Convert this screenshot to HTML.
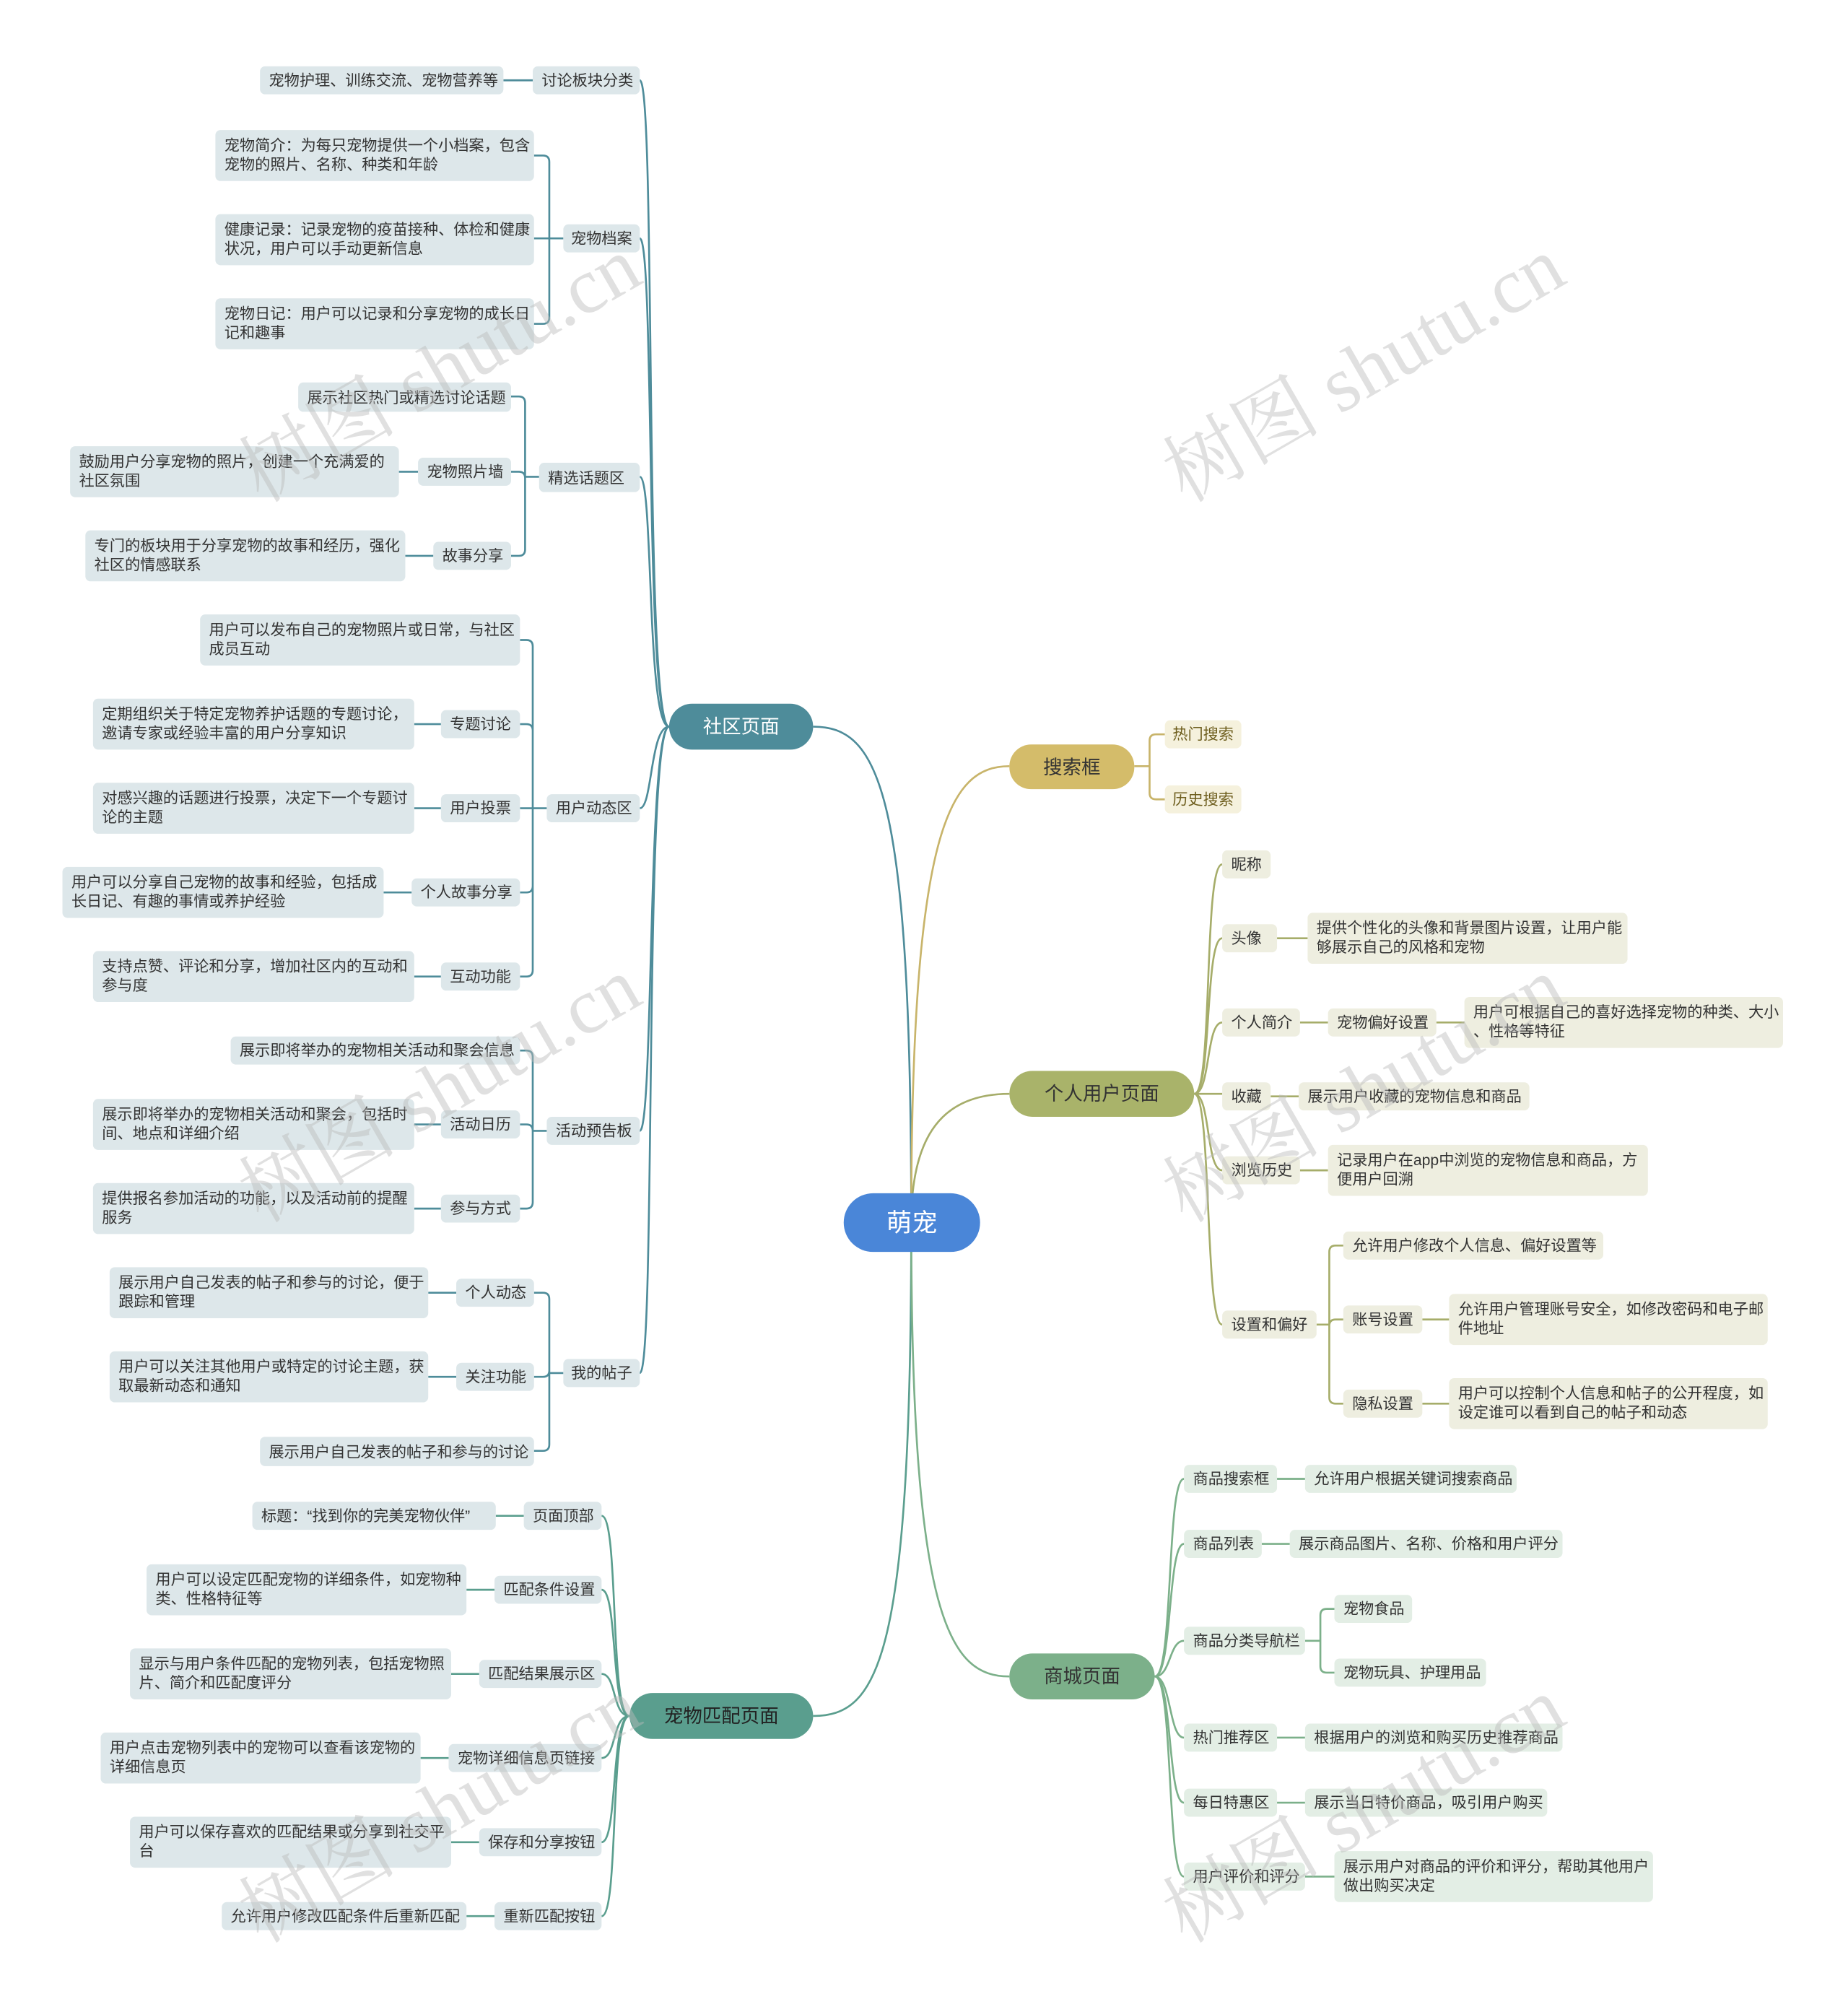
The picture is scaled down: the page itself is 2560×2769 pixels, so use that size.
<!DOCTYPE html>
<html><head><meta charset="utf-8"><style>
html,body{margin:0;padding:0;background:#fff;}
svg{display:block;}
text{font-family:"Liberation Sans","Noto Sans CJK SC",sans-serif;font-size:12px;fill:#333;}
.m{font-size:15px;fill:#fff;}
.c{font-size:20px;fill:#fff;}
.wm{font-family:"Liberation Serif","Noto Serif CJK SC",serif;font-size:62px;fill:#bbb;opacity:.45;}
.t{fill:#dde7ea;}
.g{fill:#e3eee5;}
.o{fill:#eeeee0;}
.y{fill:#f5f1dd;}
.yt{fill:#6e5e1e;}
path{fill:none;stroke-width:1.5;}
.lt{stroke:#4e8c9a;}.lm{stroke:#5a9e8e;}.ly{stroke:#c8b46a;}.lo{stroke:#a6ad6a;}.lg{stroke:#7cb08a;}
</style></head><body>
<svg width="2560" height="2769" viewBox="0 0 1450 1568" preserveAspectRatio="none" xmlns="http://www.w3.org/2000/svg">
<path class="lt" d="M715 959 C715 620 690 570 638 570"/>
<path class="lm" d="M715 959 C715 1300 690 1346 638 1346"/>
<path class="ly" d="M715 959 C715 650 745 601 792 601"/>
<path class="lo" d="M715 959 C715 890 740 858 792 858"/>
<path class="lg" d="M715 959 C715 1270 745 1315 792 1315"/>

<g class="lt">
<path d="M525 570 C505 570 515 63 502 63"/>
<path d="M525 570 C506 570 514 187 502 187"/>
<path d="M525 570 C507 570 513 374 502 374"/>
<path d="M525 570 C510 570 512 634 502 634"/>
<path d="M525 570 C508 570 513 887 502 887"/>
<path d="M525 570 C505 570 515 1077 502 1077"/>
<path d="M395 63 H418"/>
<path d="M442 187 H431 M431 187 V127 Q431 122 426 122 H419 M431 187 H419 M431 187 V249 Q431 254 426 254 H419"/>
<path d="M423 374 H412 M412 374 V316 Q412 311 407 311 H401 M412 374 V375 Q412 370 407 370 H401 M412 374 V431 Q412 436 407 436 H401"/>
<path d="M313 370 H328 M318 436 H340"/>
<path d="M429 634 H418 M418 634 V507 Q418 502 413 502 H408 M418 634 V573 Q418 568 413 568 H408 M418 634 H408 M418 634 V695 Q418 700 413 700 H408 M418 634 V761 Q418 766 413 766 H408"/>
<path d="M325 568 H346 M325 634 H346 M301 700 H323 M325 766 H346"/>
<path d="M429 887 H418 M418 887 V829 Q418 824 413 824 H408 M418 887 V887 Q418 882 413 882 H408 M418 887 V943 Q418 948 413 948 H408"/>
<path d="M325 882 H346 M325 948 H346"/>
<path d="M442 1077 H431 M431 1077 V1019 Q431 1014 426 1014 H419 M431 1077 V1075 Q431 1080 426 1080 H419 M431 1077 V1133 Q431 1138 426 1138 H419"/>
<path d="M336 1014 H358 M336 1080 H358"/>
</g>
<g class="lm">
<path d="M494 1346 C478 1346 486 1189 472 1189"/>
<path d="M494 1346 C479 1346 485 1247 472 1247"/>
<path d="M494 1346 C480 1346 484 1313 472 1313"/>
<path d="M494 1346 C480 1346 484 1379 472 1379"/>
<path d="M494 1346 C479 1346 485 1445 472 1445"/>
<path d="M494 1346 C478 1346 486 1503 472 1503"/>
<path d="M389 1189 H411 M366 1247 H388 M354 1313 H376 M330 1379 H352 M354 1445 H376 M366 1503 H388"/>
</g>
<g class="ly">
<path d="M890 601 H902 M902 601 V581 Q902 576 907 576 H914 M902 601 V622 Q902 627 907 627 H914"/>
</g>
<g class="lo">
<path d="M937 858 C952 858 944 678 959 678"/>
<path d="M937 858 C951 858 945 736 959 736"/>
<path d="M937 858 C950 858 946 802 959 802"/>
<path d="M937 858 H959"/>
<path d="M937 858 C950 858 946 918 959 918"/>
<path d="M937 858 C951 858 945 1039 959 1039"/>
<path d="M1002 736 H1026 M1020 802 H1042 M1127 802 H1149 M997 860 H1019 M1020 918 H1042 M1116 1035 H1137 M1116 1101 H1137"/>
<path d="M1033 1039 H1043 M1043 1039 V982 Q1043 977 1048 977 H1054 M1043 1039 V1040 Q1043 1035 1048 1035 H1054 M1043 1039 V1096 Q1043 1101 1048 1101 H1054"/>
</g>
<g class="lg">
<path d="M906 1315 C921 1315 915 1160 929 1160"/>
<path d="M906 1315 C920 1315 916 1211 929 1211"/>
<path d="M906 1315 C919 1315 917 1287 929 1287"/>
<path d="M906 1315 C919 1315 917 1363 929 1363"/>
<path d="M906 1315 C920 1315 916 1414 929 1414"/>
<path d="M906 1315 C921 1315 915 1472 929 1472"/>
<path d="M1002 1160 H1024 M990 1211 H1012 M1002 1363 H1024 M1002 1414 H1024 M1024 1472 H1047"/>
<path d="M1024 1287 H1036 M1036 1287 V1267 Q1036 1262 1041 1262 H1047 M1036 1287 V1307 Q1036 1312 1041 1312 H1047"/>
</g>

<rect x="662" y="936" width="107" height="46" rx="23" fill="#4a86d8"/>
<text class="c" x="715.5" y="966" text-anchor="middle">萌宠</text>
<rect x="525" y="552" width="113" height="36" rx="18" fill="#4e8c9a"/>
<text class="m" x="581.5" y="575" text-anchor="middle">社区页面</text>
<rect x="494" y="1328" width="144" height="36" rx="18" fill="#5a9e8e"/>
<text class="m" x="566" y="1351" text-anchor="middle" style="fill:#222">宠物匹配页面</text>
<rect x="792" y="584" width="98" height="35" rx="17" fill="#d4bc6a"/>
<text class="m" x="841" y="607" text-anchor="middle" style="fill:#333">搜索框</text>
<rect x="792" y="840" width="145" height="36" rx="18" fill="#a9b36a"/>
<text class="m" x="864.5" y="863" text-anchor="middle" style="fill:#333">个人用户页面</text>
<rect x="792" y="1297" width="114" height="36" rx="18" fill="#7cb08a"/>
<text class="m" x="849" y="1320" text-anchor="middle" style="fill:#333">商城页面</text>

<g>
<rect class="t" x="418" y="52" width="84" height="22" rx="4"/><text x="425" y="67">讨论板块分类</text>
<rect class="t" x="204" y="52" width="191" height="22" rx="4"/><text x="211" y="67">宠物护理、训练交流、宠物营养等</text>
<rect class="t" x="442" y="176" width="60" height="22" rx="4"/><text x="448" y="191">宠物档案</text>
<rect class="t" x="169" y="102" width="250" height="40" rx="4"/><text x="176" y="118">宠物简介：为每只宠物提供一个小档案，包含</text><text x="176" y="133">宠物的照片、名称、种类和年龄</text>
<rect class="t" x="169" y="168" width="250" height="40" rx="4"/><text x="176" y="184">健康记录：记录宠物的疫苗接种、体检和健康</text><text x="176" y="199">状况，用户可以手动更新信息</text>
<rect class="t" x="169" y="234" width="250" height="40" rx="4"/><text x="176" y="250">宠物日记：用户可以记录和分享宠物的成长日</text><text x="176" y="265">记和趣事</text>
<rect class="t" x="423" y="363" width="79" height="23" rx="4"/><text x="430" y="379">精选话题区</text>
<rect class="t" x="234" y="300" width="167" height="23" rx="4"/><text x="241" y="316">展示社区热门或精选讨论话题</text>
<rect class="t" x="328" y="359" width="73" height="22" rx="4"/><text x="335" y="374">宠物照片墙</text>
<rect class="t" x="55" y="350" width="258" height="40" rx="4"/><text x="62" y="366">鼓励用户分享宠物的照片，创建一个充满爱的</text><text x="62" y="381">社区氛围</text>
<rect class="t" x="340" y="425" width="61" height="22" rx="4"/><text x="347" y="440">故事分享</text>
<rect class="t" x="67" y="416" width="251" height="40" rx="4"/><text x="74" y="432">专门的板块用于分享宠物的故事和经历，强化</text><text x="74" y="447">社区的情感联系</text>
<rect class="t" x="429" y="623" width="73" height="22" rx="4"/><text x="436" y="638">用户动态区</text>
<rect class="t" x="157" y="482" width="251" height="40" rx="4"/><text x="164" y="498">用户可以发布自己的宠物照片或日常，与社区</text><text x="164" y="513">成员互动</text>
<rect class="t" x="346" y="557" width="62" height="22" rx="4"/><text x="353" y="572">专题讨论</text>
<rect class="t" x="73" y="548" width="252" height="40" rx="4"/><text x="80" y="564">定期组织关于特定宠物养护话题的专题讨论，</text><text x="80" y="579">邀请专家或经验丰富的用户分享知识</text>
<rect class="t" x="346" y="623" width="62" height="22" rx="4"/><text x="353" y="638">用户投票</text>
<rect class="t" x="73" y="614" width="252" height="40" rx="4"/><text x="80" y="630">对感兴趣的话题进行投票，决定下一个专题讨</text><text x="80" y="645">论的主题</text>
<rect class="t" x="323" y="689" width="85" height="22" rx="4"/><text x="330" y="704">个人故事分享</text>
<rect class="t" x="49" y="680" width="252" height="40" rx="4"/><text x="56" y="696">用户可以分享自己宠物的故事和经验，包括成</text><text x="56" y="711">长日记、有趣的事情或养护经验</text>
<rect class="t" x="346" y="755" width="62" height="22" rx="4"/><text x="353" y="770">互动功能</text>
<rect class="t" x="73" y="746" width="252" height="40" rx="4"/><text x="80" y="762">支持点赞、评论和分享，增加社区内的互动和</text><text x="80" y="777">参与度</text>
<rect class="t" x="429" y="876" width="73" height="22" rx="4"/><text x="436" y="891">活动预告板</text>
<rect class="t" x="181" y="813" width="227" height="22" rx="4"/><text x="188" y="828">展示即将举办的宠物相关活动和聚会信息</text>
<rect class="t" x="346" y="871" width="62" height="22" rx="4"/><text x="353" y="886">活动日历</text>
<rect class="t" x="73" y="862" width="252" height="40" rx="4"/><text x="80" y="878">展示即将举办的宠物相关活动和聚会，包括时</text><text x="80" y="893">间、地点和详细介绍</text>
<rect class="t" x="346" y="937" width="62" height="22" rx="4"/><text x="353" y="952">参与方式</text>
<rect class="t" x="73" y="928" width="252" height="40" rx="4"/><text x="80" y="944">提供报名参加活动的功能，以及活动前的提醒</text><text x="80" y="959">服务</text>
<rect class="t" x="442" y="1066" width="60" height="22" rx="4"/><text x="448" y="1081">我的帖子</text>
<rect class="t" x="358" y="1003" width="61" height="22" rx="4"/><text x="365" y="1018">个人动态</text>
<rect class="t" x="86" y="994" width="250" height="40" rx="4"/><text x="93" y="1010">展示用户自己发表的帖子和参与的讨论，便于</text><text x="93" y="1025">跟踪和管理</text>
<rect class="t" x="358" y="1069" width="61" height="22" rx="4"/><text x="365" y="1084">关注功能</text>
<rect class="t" x="86" y="1060" width="250" height="40" rx="4"/><text x="93" y="1076">用户可以关注其他用户或特定的讨论主题，获</text><text x="93" y="1091">取最新动态和通知</text>
<rect class="t" x="204" y="1127" width="215" height="23" rx="4"/><text x="211" y="1143">展示用户自己发表的帖子和参与的讨论</text>
</g>

<g>
<rect class="t" x="411" y="1178" width="61" height="22" rx="4"/><text x="418" y="1193">页面顶部</text>
<rect class="t" x="198" y="1178" width="191" height="22" rx="4"/><text x="205" y="1193">标题：“找到你的完美宠物伙伴”</text>
<rect class="t" x="388" y="1236" width="84" height="22" rx="4"/><text x="395" y="1251">匹配条件设置</text>
<rect class="t" x="115" y="1227" width="251" height="40" rx="4"/><text x="122" y="1243">用户可以设定匹配宠物的详细条件，如宠物种</text><text x="122" y="1258">类、性格特征等</text>
<rect class="t" x="376" y="1302" width="96" height="22" rx="4"/><text x="383" y="1317">匹配结果展示区</text>
<rect class="t" x="102" y="1293" width="252" height="40" rx="4"/><text x="109" y="1309">显示与用户条件匹配的宠物列表，包括宠物照</text><text x="109" y="1324">片、简介和匹配度评分</text>
<rect class="t" x="352" y="1368" width="120" height="22" rx="4"/><text x="359" y="1383">宠物详细信息页链接</text>
<rect class="t" x="79" y="1359" width="251" height="40" rx="4"/><text x="86" y="1375">用户点击宠物列表中的宠物可以查看该宠物的</text><text x="86" y="1390">详细信息页</text>
<rect class="t" x="376" y="1434" width="96" height="22" rx="4"/><text x="383" y="1449">保存和分享按钮</text>
<rect class="t" x="102" y="1425" width="252" height="40" rx="4"/><text x="109" y="1441">用户可以保存喜欢的匹配结果或分享到社交平</text><text x="109" y="1456">台</text>
<rect class="t" x="388" y="1492" width="84" height="22" rx="4"/><text x="395" y="1507">重新匹配按钮</text>
<rect class="t" x="174" y="1492" width="192" height="22" rx="4"/><text x="181" y="1507">允许用户修改匹配条件后重新匹配</text>
</g>

<rect class="y" x="914" y="565" width="60" height="22" rx="4"/><text class="yt" x="920" y="580">热门搜索</text>
<rect class="y" x="914" y="616" width="60" height="22" rx="4"/><text class="yt" x="920" y="631">历史搜索</text>

<g>
<rect class="o" x="959" y="667" width="38" height="22" rx="4"/><text x="966" y="682">昵称</text>
<rect class="o" x="959" y="725" width="43" height="22" rx="4"/><text x="966" y="740">头像</text>
<rect class="o" x="1026" y="716" width="251" height="40" rx="4"/><text x="1033" y="732">提供个性化的头像和背景图片设置，让用户能</text><text x="1033" y="747">够展示自己的风格和宠物</text>
<rect class="o" x="959" y="791" width="61" height="22" rx="4"/><text x="966" y="806">个人简介</text>
<rect class="o" x="1042" y="791" width="85" height="22" rx="4"/><text x="1049" y="806">宠物偏好设置</text>
<rect class="o" x="1149" y="782" width="250" height="40" rx="4"/><text x="1156" y="798">用户可根据自己的喜好选择宠物的种类、大小</text><text x="1156" y="813">、性格等特征</text>
<rect class="o" x="959" y="849" width="38" height="22" rx="4"/><text x="966" y="864">收藏</text>
<rect class="o" x="1019" y="849" width="181" height="22" rx="4"/><text x="1026" y="864">展示用户收藏的宠物信息和商品</text>
<rect class="o" x="959" y="907" width="61" height="22" rx="4"/><text x="966" y="922">浏览历史</text>
<rect class="o" x="1042" y="898" width="251" height="40" rx="4"/><text x="1049" y="914">记录用户在app中浏览的宠物信息和商品，方</text><text x="1049" y="929">便用户回溯</text>
<rect class="o" x="959" y="1028" width="74" height="22" rx="4"/><text x="966" y="1043">设置和偏好</text>
<rect class="o" x="1054" y="966" width="204" height="22" rx="4"/><text x="1061" y="981">允许用户修改个人信息、偏好设置等</text>
<rect class="o" x="1054" y="1024" width="62" height="22" rx="4"/><text x="1061" y="1039">账号设置</text>
<rect class="o" x="1137" y="1015" width="250" height="40" rx="4"/><text x="1144" y="1031">允许用户管理账号安全，如修改密码和电子邮</text><text x="1144" y="1046">件地址</text>
<rect class="o" x="1054" y="1090" width="62" height="22" rx="4"/><text x="1061" y="1105">隐私设置</text>
<rect class="o" x="1137" y="1081" width="250" height="40" rx="4"/><text x="1144" y="1097">用户可以控制个人信息和帖子的公开程度，如</text><text x="1144" y="1112">设定谁可以看到自己的帖子和动态</text>
</g>

<g>
<rect class="g" x="929" y="1149" width="73" height="22" rx="4"/><text x="936" y="1164">商品搜索框</text>
<rect class="g" x="1024" y="1149" width="166" height="22" rx="4"/><text x="1031" y="1164">允许用户根据关键词搜索商品</text>
<rect class="g" x="929" y="1200" width="61" height="22" rx="4"/><text x="936" y="1215">商品列表</text>
<rect class="g" x="1012" y="1200" width="214" height="22" rx="4"/><text x="1019" y="1215">展示商品图片、名称、价格和用户评分</text>
<rect class="g" x="929" y="1276" width="95" height="22" rx="4"/><text x="936" y="1291">商品分类导航栏</text>
<rect class="g" x="1047" y="1251" width="61" height="22" rx="4"/><text x="1054" y="1266">宠物食品</text>
<rect class="g" x="1047" y="1301" width="119" height="22" rx="4"/><text x="1054" y="1316">宠物玩具、护理用品</text>
<rect class="g" x="929" y="1352" width="73" height="22" rx="4"/><text x="936" y="1367">热门推荐区</text>
<rect class="g" x="1024" y="1352" width="202" height="22" rx="4"/><text x="1031" y="1367">根据用户的浏览和购买历史推荐商品</text>
<rect class="g" x="929" y="1403" width="73" height="22" rx="4"/><text x="936" y="1418">每日特惠区</text>
<rect class="g" x="1024" y="1403" width="190" height="22" rx="4"/><text x="1031" y="1418">展示当日特价商品，吸引用户购买</text>
<rect class="g" x="929" y="1461" width="95" height="22" rx="4"/><text x="936" y="1476">用户评价和评分</text>
<rect class="g" x="1047" y="1452" width="250" height="40" rx="4"/><text x="1054" y="1468">展示用户对商品的评价和评分，帮助其他用户</text><text x="1054" y="1483">做出购买决定</text>
</g>

<text class="wm" transform="translate(930,395) rotate(-30)">树图 shutu.cn</text>
<text class="wm" transform="translate(930,960) rotate(-30)">树图 shutu.cn</text>
<text class="wm" transform="translate(930,1525) rotate(-30)">树图 shutu.cn</text>
<text class="wm" transform="translate(205,395) rotate(-30)">树图 shutu.cn</text>
<text class="wm" transform="translate(205,960) rotate(-30)">树图 shutu.cn</text>
<text class="wm" transform="translate(205,1525) rotate(-30)">树图 shutu.cn</text>
</svg>
</body></html>
